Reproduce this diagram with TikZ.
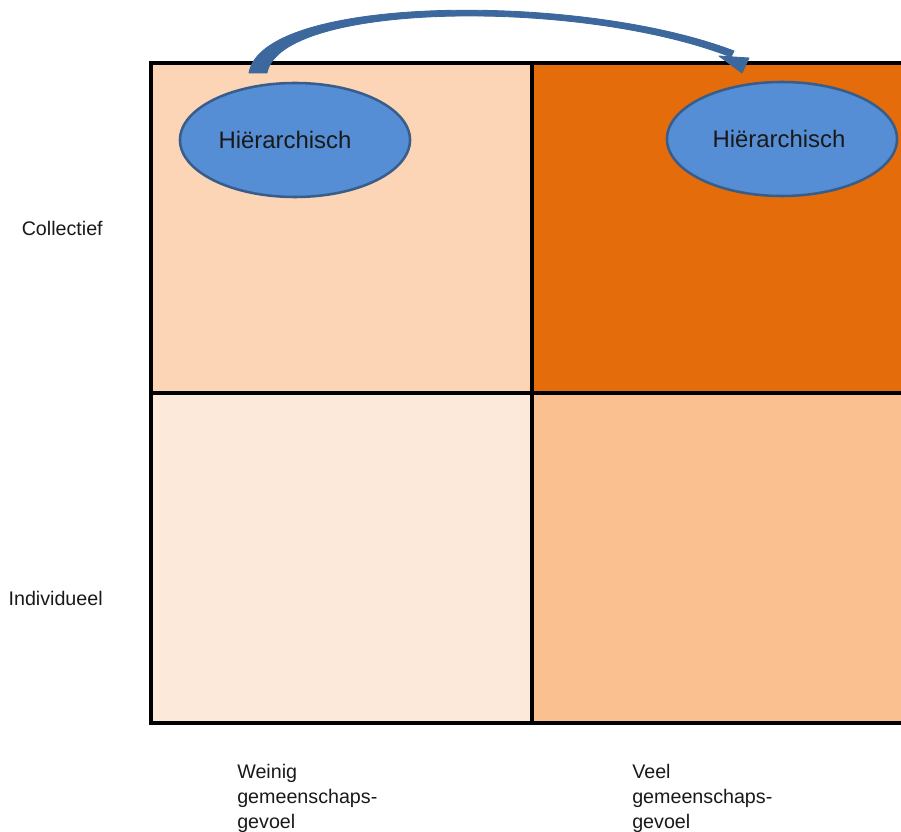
\documentclass[tikz,border=0pt]{standalone}
\usepackage{fontspec}
\setmainfont{Liberation Sans}
\usepackage{tikz}
\usetikzlibrary{shapes,positioning}
\usepackage{xcolor}
\definecolor{qpeach}{RGB}{251,213,181}
\definecolor{qorange}{RGB}{228,108,10}
\definecolor{qlight}{RGB}{253,233,217}
\definecolor{qtan}{RGB}{250,192,144}
\definecolor{qblue}{RGB}{85,142,213}
\definecolor{qblueline}{RGB}{56,93,138}
\definecolor{qarrow}{RGB}{60,104,158}
\tikzstyle{cell} = [rectangle, draw=black, line width=2.4pt, outer sep=0pt, minimum width=9.525cm, minimum height=8.25cm]
\tikzstyle{hier} = [ellipse, draw=qblueline, line width=1.8pt, fill=qblue, minimum width=5.75cm, minimum height=2.85cm, inner sep=0pt, text=black!90, font=\fontsize{17}{20}\selectfont]
\tikzstyle{axislabel} = [inner sep=0pt, text=black!90, font=\fontsize{14}{17.8}\selectfont, align=left]
\tikzstyle{arrowbody} = [fill=qarrow, draw=qarrow, line width=0.6pt, line join=round]

\begin{document}
\begin{tikzpicture}[x=0.025cm, y=-0.025cm]
\useasboundingbox (0,0) rectangle (901,832);
\clip (0,0) rectangle (901,832);

% Grid cells
\node[cell, fill=qpeach] (coll-weinig) at (341.5,228) {};
\node[cell, fill=qorange, right=0pt of coll-weinig] (coll-veel) {};
\node[cell, fill=qlight, below=0pt of coll-weinig] (ind-weinig) {};
\node[cell, fill=qtan, right=0pt of ind-weinig] (ind-veel) {};

% Ellipses
\node[hier] (hier-links) at (295,140) {Hiërarchisch\kern0.5cm};
\node[hier] (hier-rechts) at (782,139) {Hiërarchisch\kern0.15cm};

% Curved arrow (tapered shaft + head)
\coordinate (arr-start-out) at (249,73);
\coordinate (arr-start-in) at (267,73);
\coordinate (arr-end-out) at (734,51);
\coordinate (arr-end-in) at (731,57);
\coordinate (arr-tip) at (742,73);
\path[arrowbody] (arr-start-out) .. controls (262,-5) and (580,-8) .. (arr-end-out)
  -- (arr-end-in) .. controls (580,-2) and (280,2) .. (arr-start-in) -- cycle;
\path[arrowbody] (719,56) -- (749,58) -- (arr-tip) -- cycle;

% Row labels
\node[axislabel, anchor=east] (collectief) at (103,228) {Collectief};
\node[axislabel, anchor=east] (individueel) at (103,598) {Individueel};

% Column labels
\node[axislabel, anchor=north west] (weinig) at (237,764) {Weinig\\gemeenschaps-\\gevoel};
\node[axislabel, anchor=north west] (veel) at (632,764) {Veel\\gemeenschaps-\\gevoel};
\end{tikzpicture}
\end{document}
